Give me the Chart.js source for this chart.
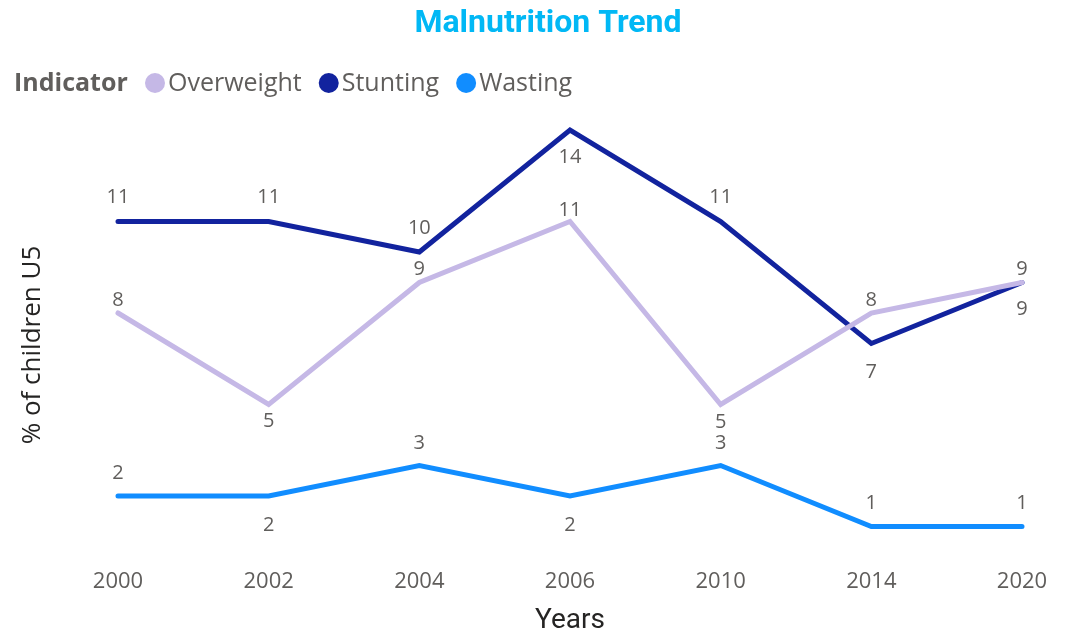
<!DOCTYPE html>
<html><head><meta charset="utf-8">
<script src="https://cdn.jsdelivr.net/npm/chart.js@4"></script>
<style>html,body{margin:0;padding:0;background:#fff}#wrap{width:1070px;height:634px}</style>
</head><body><div id="wrap"><canvas id="c" width="1070" height="634"></canvas></div>
<script>
const years = ['2000','2002','2004','2006','2010','2014','2020'];
const overweight = [8,5,9,11,5,8,9];
const stunting = [11,11,10,14,11,7,9];
const wasting = [2,2,3,2,3,1,1];

// label vertical offsets in px (negative = above the point)
const labelOffset = {
  Overweight: [-13,17,-13,-11,18,-13,-13],
  Stunting:   [-24,-24,-24,27,-24,29,27],
  Wasting:    [-23,29,-22,29,-22,-23,-23]
};
const FONT = '"Open Sans","Noto Sans",sans-serif';

const overlay = {
  id:'overlay',
  afterDatasetsDraw(chart){
    const ctx = chart.ctx;
    ctx.save();
    ctx.font = '20px ' + FONT;
    ctx.fillStyle = '#605E5C';
    ctx.textAlign = 'center';
    ctx.textBaseline = 'middle';
    chart.data.datasets.forEach((ds,i)=>{
      const meta = chart.getDatasetMeta(i);
      meta.data.forEach((pt,j)=>{
        ctx.fillText(String(ds.data[j]), pt.x, pt.y + labelOffset[ds.label][j]);
      });
    });
    // title
    ctx.font = 'bold 32px Roboto, sans-serif';
    ctx.fillStyle = '#01B8F5';
    ctx.fillText('Malnutrition Trend', 548, 24);
    // y title
    ctx.save();
    ctx.translate(33, 345);
    ctx.rotate(-Math.PI/2);
    ctx.font = '26px ' + FONT;
    ctx.fillStyle = '#252423';
    ctx.fillText('% of children U5', 0, 0);
    ctx.restore();
    // legend
    ctx.textAlign = 'left';
    ctx.font = 'bold 25px ' + FONT;
    ctx.fillStyle = '#605E5C';
    ctx.fillText('Indicator', 14, 84);
    let x = 145;
    ctx.font = '25px ' + FONT;
    chart.data.datasets.forEach(ds=>{
      ctx.fillStyle = ds.borderColor;
      ctx.beginPath(); ctx.arc(x+10, 83, 10, 0, Math.PI*2); ctx.fill();
      ctx.fillStyle = '#605E5C';
      ctx.fillText(ds.label, x+23, 84);
      x += 23 + ctx.measureText(ds.label).width + 17;
    });
    ctx.restore();
  }
};

new Chart(document.getElementById('c'), {
  type:'line',
  data:{
    labels: years,
    datasets:[
      {label:'Overweight', data: overweight, borderColor:'#C5B8E6', backgroundColor:'#C5B8E6'},
      {label:'Stunting', data: stunting, borderColor:'#12239E', backgroundColor:'#12239E'},
      {label:'Wasting', data: wasting, borderColor:'#118DFF', backgroundColor:'#118DFF'}
    ]
  },
  options:{
    responsive:false, animation:false,
    layout:{padding:{top:130,left:118,right:48,bottom:0}},
    elements:{line:{borderWidth:5, tension:0, borderJoinStyle:'miter', borderCapStyle:'round'}, point:{radius:0, hoverRadius:0}},
    datasets:{line:{clip:false}},
    plugins:{legend:{display:false}, tooltip:{enabled:false}},
    scales:{
      x:{
        afterFit(scale){ scale.height = 77; },
        grid:{display:false, drawTicks:false}, border:{display:false},
        ticks:{padding:12, color:'#605E5C', font:{size:22, family:FONT}},
        title:{display:true, text:'Years', color:'#252423', font:{size:28, family:'Roboto, sans-serif'}, padding:{top:0,bottom:-4}}
      },
      y:{display:false, min:0, max:14}
    }
  },
  plugins:[overlay]
});
</script></body></html>
